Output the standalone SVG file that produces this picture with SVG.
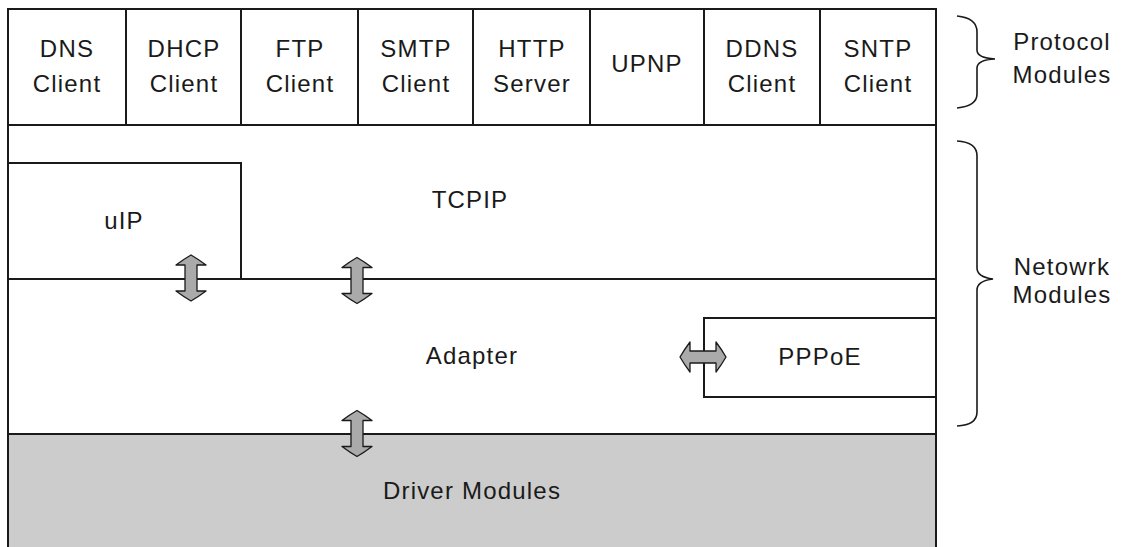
<svg xmlns="http://www.w3.org/2000/svg" width="1125" height="547" viewBox="0 0 1125 547">
<style>
  .box { fill: #ffffff; stroke: #1a1a1a; stroke-width: 2; }
  .drv { fill: #cccccc; stroke: #1a1a1a; stroke-width: 2; }
  .ln { stroke: #1a1a1a; stroke-width: 2; fill: none; }
  .lbl { font-family: "Liberation Sans", Arial, sans-serif; font-size: 24px; fill: #1a1a1a; text-anchor: middle; letter-spacing: 1.2px; }
  .brace { fill: none; stroke: #1a1a1a; stroke-width: 1.6; }
  .arr { fill: #aaaaaa; stroke: #1a1a1a; stroke-width: 1.3; stroke-linejoin: round; }
</style>
<defs>
  <path id="dblArrow" d="M0,-23 Q7,-19 15,-13 L6,-13 L6,13 L15,13 Q7,19 0,23 Q-7,19 -15,13 L-6,13 L-6,-13 L-15,-13 Q-7,-19 0,-23 Z"/>
</defs>
<rect width="1125" height="547" fill="#ffffff"/>

<g id="protocol-layer">
  <rect class="box" x="8" y="9" width="928" height="116"/>
</g>
<g id="dns-client">
  <rect class="box" x="8" y="9" width="118" height="116"/>
  <text class="lbl" x="67" y="57">DNS</text>
  <text class="lbl" x="67" y="92">Client</text>
</g>
<g id="dhcp-client">
  <rect class="box" x="126" y="9" width="115" height="116"/>
  <text class="lbl" x="184" y="57">DHCP</text>
  <text class="lbl" x="184" y="92">Client</text>
</g>
<g id="ftp-client">
  <rect class="box" x="241" y="9" width="117" height="116"/>
  <text class="lbl" x="300" y="57">FTP</text>
  <text class="lbl" x="300" y="92">Client</text>
</g>
<g id="smtp-client">
  <rect class="box" x="358" y="9" width="115" height="116"/>
  <text class="lbl" x="416" y="57">SMTP</text>
  <text class="lbl" x="416" y="92">Client</text>
</g>
<g id="http-server">
  <rect class="box" x="473" y="9" width="117" height="116"/>
  <text class="lbl" x="532" y="57">HTTP</text>
  <text class="lbl" x="532" y="92">Server</text>
</g>
<g id="upnp">
  <rect class="box" x="590" y="9" width="114" height="116"/>
  <text class="lbl" x="647" y="72">UPNP</text>
</g>
<g id="ddns-client">
  <rect class="box" x="704" y="9" width="116" height="116"/>
  <text class="lbl" x="762" y="57">DDNS</text>
  <text class="lbl" x="762" y="92">Client</text>
</g>
<g id="sntp-client">
  <rect class="box" x="820" y="9" width="116" height="116"/>
  <text class="lbl" x="878" y="57">SNTP</text>
  <text class="lbl" x="878" y="92">Client</text>
</g>

<g id="tcpip">
  <rect class="box" x="8" y="125" width="928" height="154"/>
  <text class="lbl" x="470" y="208">TCPIP</text>
</g>
<g id="uip">
  <rect class="box" x="8" y="163" width="233" height="116"/>
  <text class="lbl" x="124" y="229">uIP</text>
</g>
<g id="adapter">
  <rect class="box" x="8" y="279" width="928" height="155"/>
  <text class="lbl" x="472" y="364">Adapter</text>
</g>
<g id="pppoe">
  <rect class="box" x="704" y="318" width="232" height="79"/>
  <text class="lbl" x="820" y="365">PPPoE</text>
</g>
<g id="driver-modules">
  <rect class="drv" x="8" y="434" width="928" height="130"/>
  <text class="lbl" x="472" y="499">Driver Modules</text>
</g>

<g id="connectors">
  <use href="#dblArrow" class="arr" transform="translate(191,278)"/>
  <use href="#dblArrow" class="arr" transform="translate(357,280.5)"/>
  <use href="#dblArrow" class="arr" transform="translate(357,433.5)"/>
  <use href="#dblArrow" class="arr" transform="translate(703,357) rotate(90)"/>
</g>

<g id="protocol-modules-label">
  <path class="brace" d="M957,16 Q977,18 977,32 L977,50 Q977,58 995,59 Q977,60 977,68 L977,94 Q977,106 957,108"/>
  <text class="lbl" x="1062" y="50">Protocol</text>
  <text class="lbl" x="1062" y="83">Modules</text>
</g>
<g id="network-modules-label">
  <path class="brace" d="M957,141 Q977,142 977,156 L977,268 Q977,277 993,279 Q977,281 977,290 L977,412 Q977,425 957,426"/>
  <text class="lbl" x="1062" y="275">Netowrk</text>
  <text class="lbl" x="1062" y="303">Modules</text>
</g>
</svg>
